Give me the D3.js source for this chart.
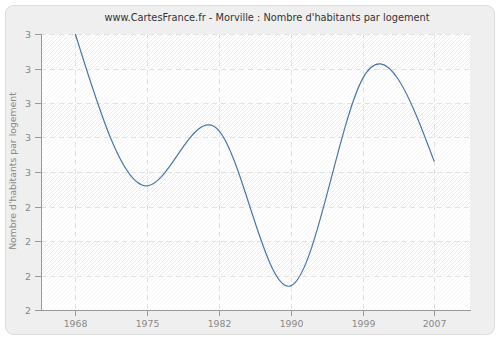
<!DOCTYPE html>
<html>
<head>
<meta charset="utf-8">
<script src="https://cdn.jsdelivr.net/npm/d3@7"></script>
<style>
body { margin:0; background:#fff; }
text { font-family: "DejaVu Sans", Verdana, sans-serif; }
</style>
</head>
<body>
<div id="vis"></div>
<script>
// data
var years = ["1968", "1975", "1982", "1990", "1999", "2007"];
var values = [3.0, 2.56, 2.72, 2.27, 2.87, 2.63];
var yTicks = [2.2, 2.3, 2.4, 2.5, 2.6, 2.7, 2.8, 2.9, 3.0];
var yTickLabels = ["2", "2", "2", "2", "3", "3", "3", "3", "3"];

var W = 500, H = 340;
var plot = {left:41, right:470, top:34, bottom:310};

var svg = d3.select("#vis").append("svg")
	.attr("width", W).attr("height", H);

var defs = svg.append("defs");
var pat = defs.append("pattern")
	.attr("id", "hatch")
	.attr("patternUnits", "userSpaceOnUse")
	.attr("width", 4).attr("height", 4);
pat.append("rect").attr("width", 4).attr("height", 4).attr("fill", "#fff");
pat.append("path")
	.attr("d", "M-1,1 l2,-2 M0,4 l4,-4 M3,5 l2,-2")
	.attr("stroke", "#ececec").attr("stroke-width", 1);

// outer frame
svg.append("rect")
	.attr("x", 5.5).attr("y", 5.5)
	.attr("width", 489).attr("height", 329)
	.attr("rx", 8)
	.attr("fill", "#efefef")
	.attr("stroke", "#dcdcdc");

var x = d3.scalePoint()
	.domain(years)
	.range([75.3, 434.3]);

var y = d3.scaleLinear()
	.domain([2.2, 3.0])
	.range([plot.bottom, plot.top]);

// plot background
svg.append("rect")
	.attr("x", plot.left).attr("y", plot.top)
	.attr("width", plot.right - plot.left)
	.attr("height", plot.bottom - plot.top)
	.attr("fill", "url(#hatch)");

// lighter alternating bands
svg.append("g").selectAll("rect")
	.data(d3.range(1, yTicks.length - 1, 2))
	.enter().append("rect")
	.attr("x", plot.left)
	.attr("width", plot.right - plot.left)
	.attr("y", function(i) { return y(yTicks[yTicks.length - 1 - i]); })
	.attr("height", function(i) { return y(yTicks[yTicks.length - 2 - i]) - y(yTicks[yTicks.length - 1 - i]); })
	.attr("fill", "#fff").attr("opacity", 0.6);

// grid
var grid = svg.append("g")
	.attr("stroke", "#e2e2e2")
	.attr("stroke-dasharray", "5,4");
grid.selectAll(".hg")
	.data(yTicks.slice(1))
	.enter().append("line")
	.attr("x1", plot.left).attr("x2", plot.right)
	.attr("y1", function(d) { return Math.round(y(d)) + 0.5; })
	.attr("y2", function(d) { return Math.round(y(d)) + 0.5; });
grid.selectAll(".vg")
	.data(years)
	.enter().append("line")
	.attr("x1", function(d) { return Math.round(x(d)) + 0.5; })
	.attr("x2", function(d) { return Math.round(x(d)) + 0.5; })
	.attr("y1", plot.top).attr("y2", plot.bottom);

// line
var line = d3.line()
	.x(function(d, i) { return x(years[i]); })
	.y(function(d) { return y(d); })
	.curve(d3.curveNatural);

svg.append("path")
	.datum(values)
	.attr("d", line)
	.attr("fill", "none")
	.attr("stroke", "#4a76ac")
	.attr("stroke-width", 1.2);

// axes
var axisColor = "#999";
var labelColor = "#888";

var yAxis = svg.append("g");
yAxis.append("line")
	.attr("x1", plot.left + 0.5).attr("x2", plot.left + 0.5)
	.attr("y1", plot.top).attr("y2", plot.bottom + 1)
	.attr("stroke", axisColor);
var yt = yAxis.selectAll(".yt")
	.data(yTicks)
	.enter().append("g")
	.attr("transform", function(d) { return "translate(0," + (Math.round(y(d)) + 0.5) + ")"; });
yt.append("line")
	.attr("x1", 35).attr("x2", plot.left)
	.attr("stroke", axisColor);
yt.append("text")
	.attr("x", 31).attr("dy", "0.35em")
	.attr("text-anchor", "end")
	.attr("font-size", 9.5)
	.attr("fill", labelColor)
	.text(function(d, i) { return yTickLabels[i]; });

var xAxis = svg.append("g");
xAxis.append("line")
	.attr("x1", 35).attr("x2", plot.right + 1)
	.attr("y1", plot.bottom + 0.5).attr("y2", plot.bottom + 0.5)
	.attr("stroke", axisColor);
var xt = xAxis.selectAll(".xt")
	.data(years)
	.enter().append("g")
	.attr("transform", function(d) { return "translate(" + (Math.round(x(d)) + 0.5) + ",0)"; });
xt.append("line")
	.attr("y1", plot.bottom).attr("y2", plot.bottom + 6)
	.attr("stroke", axisColor);
xt.append("text")
	.attr("y", 327)
	.attr("text-anchor", "middle")
	.attr("font-size", 9.3)
	.attr("fill", labelColor)
	.text(function(d) { return d; });

// y title
svg.append("text")
	.attr("transform", "translate(16," + 171 + ") rotate(-90)")
	.attr("text-anchor", "middle")
	.attr("font-size", 9.3)
	.attr("fill", labelColor)
	.text("Nombre d'habitants par logement");

// title
svg.append("text")
	.attr("x", 267).attr("y", 21)
	.attr("text-anchor", "middle")
	.attr("font-size", 9.8)
	.attr("fill", "#333")
	.text("www.CartesFrance.fr - Morville : Nombre d'habitants par logement");
</script>
</body>
</html>
